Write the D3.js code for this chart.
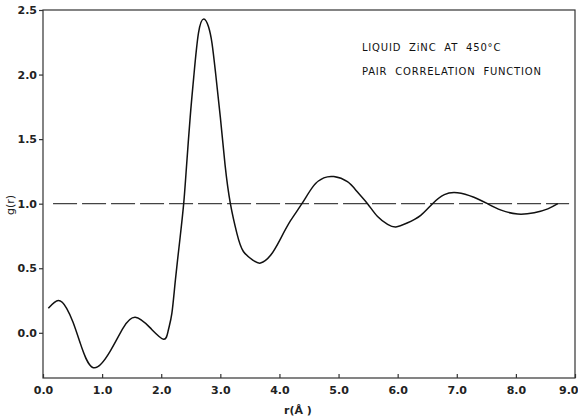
<!DOCTYPE html>
<html>
<head>
<meta charset="utf-8">
<script src="https://cdn.jsdelivr.net/npm/d3@7"></script>
<style>
  body { margin: 0; background: #fff; }
  svg { display: block; }
  .tick text { font-family: "DejaVu Sans", sans-serif; font-size: 11px; font-weight: 600; fill: #222; }
</style>
</head>
<body>
<svg id="chart" width="578" height="419"></svg>
<script>
// r in angstrom and g(r)
const rValues = [0.09, 0.26, 0.40, 0.51, 0.63, 0.85, 1.14, 1.36, 1.56, 1.81, 2.04, 2.12, 2.18, 2.24, 2.32, 2.38, 2.42, 2.49, 2.55, 2.63, 2.72, 2.80, 2.86, 2.92, 3.00, 3.08, 3.17, 3.28, 3.39, 3.56, 3.68, 3.85, 4.02, 4.19, 4.38, 4.58, 4.75, 4.92, 5.15, 5.32, 5.49, 5.66, 5.83, 5.97, 6.16, 6.39, 6.59, 6.79, 7.01, 7.29, 7.52, 7.75, 8.03, 8.31, 8.54, 8.71];
const gValues = [0.19, 0.25, 0.19, 0.08, -0.08, -0.27, -0.14, 0.04, 0.12, 0.04, -0.05, 0.02, 0.15, 0.41, 0.74, 1.00, 1.24, 1.67, 1.98, 2.32, 2.43, 2.37, 2.24, 2.01, 1.67, 1.30, 1.00, 0.77, 0.63, 0.56, 0.54, 0.60, 0.73, 0.87, 1.00, 1.14, 1.20, 1.21, 1.17, 1.09, 1.00, 0.90, 0.84, 0.82, 0.85, 0.91, 1.00, 1.07, 1.085, 1.05, 1.00, 0.95, 0.92, 0.93, 0.96, 1.00];

const xTicks = [0, 1, 2, 3, 4, 5, 6, 7, 8, 9];
const yTicks = [0, 0.5, 1.0, 1.5, 2.0, 2.5];
const refLevel = [1.0];
const notes = ['LIQUID  ZiNC  AT  450°C', 'PAIR  CORRELATION  FUNCTION'];

let svg = d3.select('#chart');

let xScale = d3.scaleLinear().domain([0, 9]).range([43, 575]);
let yScale = d3.scaleLinear().domain([-0.35, 2.5]).range([378, 10]);

let points = rValues.map((r, i) => [r, gValues[i]]);

// frame
svg.append('rect')
   .attr('x', xScale(0))
   .attr('y', yScale(2.5))
   .attr('width', xScale(9) - xScale(0))
   .attr('height', yScale(-0.35) - yScale(2.5))
   .attr('fill', 'none')
   .attr('stroke', '#333')
   .attr('stroke-width', 1.2);

let xAxis = svg.append('g')
   .attr('transform', 'translate(0,' + yScale(-0.35) + ')')
   .call(d3.axisBottom(xScale).tickValues(xTicks).tickSizeInner(-4).tickSizeOuter(0).tickPadding(8).tickFormat(d3.format('.1f')));
xAxis.select('.domain').remove();
xAxis.selectAll('.tick line').attr('stroke', '#333').attr('stroke-width', 1.2);
// last label sits against the page edge
xAxis.selectAll('.tick text').filter(d => d === 9).attr('text-anchor', 'end').attr('dx', 3);

let yAxis = svg.append('g')
   .attr('transform', 'translate(' + xScale(0) + ',0)')
   .call(d3.axisLeft(yScale).tickValues(yTicks).tickSizeInner(4).tickSizeOuter(0).tickPadding(2).tickFormat(d3.format('.1f')));
yAxis.select('.domain').remove();
yAxis.selectAll('.tick line').attr('stroke', '#333').attr('stroke-width', 1.2);

// dashed reference at g = 1
svg.selectAll('.ref')
   .data(refLevel)
   .enter()
   .append('line')
   .attr('class', 'ref')
   .attr('x1', xScale(0.17))
   .attr('x2', xScale(8.9))
   .attr('y1', d => yScale(d))
   .attr('y2', d => yScale(d))
   .attr('stroke', '#444')
   .attr('stroke-width', 1.2)
   .attr('stroke-dasharray', '24,5');

let line = d3.line()
   .x(d => xScale(d[0]))
   .y(d => yScale(d[1]))
   .curve(d3.curveNatural);

svg.append('path')
   .datum(points)
   .attr('d', line)
   .attr('fill', 'none')
   .attr('stroke', '#111')
   .attr('stroke-width', 1.5);

svg.selectAll('.note')
   .data(notes)
   .enter()
   .append('text')
   .attr('class', 'note')
   .attr('x', 362)
   .attr('y', (d, i) => 51 + i * 24)
   .attr('font-family', '"DejaVu Sans", sans-serif')
   .attr('font-size', 10)
   .attr('letter-spacing', 0.8)
   .attr('fill', '#111')
   .style('white-space', 'pre')
   .text(d => d);

svg.append('text')
   .attr('transform', 'translate(14,205) rotate(-90)')
   .attr('text-anchor', 'middle')
   .attr('font-family', '"DejaVu Sans", sans-serif')
   .attr('font-size', 11)
   .attr('fill', '#222')
   .text('g(r)');

svg.append('text')
   .attr('x', 298)
   .attr('y', 414)
   .attr('text-anchor', 'middle')
   .attr('font-family', '"DejaVu Sans", sans-serif')
   .attr('font-size', 11)
   .attr('font-weight', 600)
   .attr('fill', '#222')
   .text('r(Å )');
</script>
</body>
</html>
